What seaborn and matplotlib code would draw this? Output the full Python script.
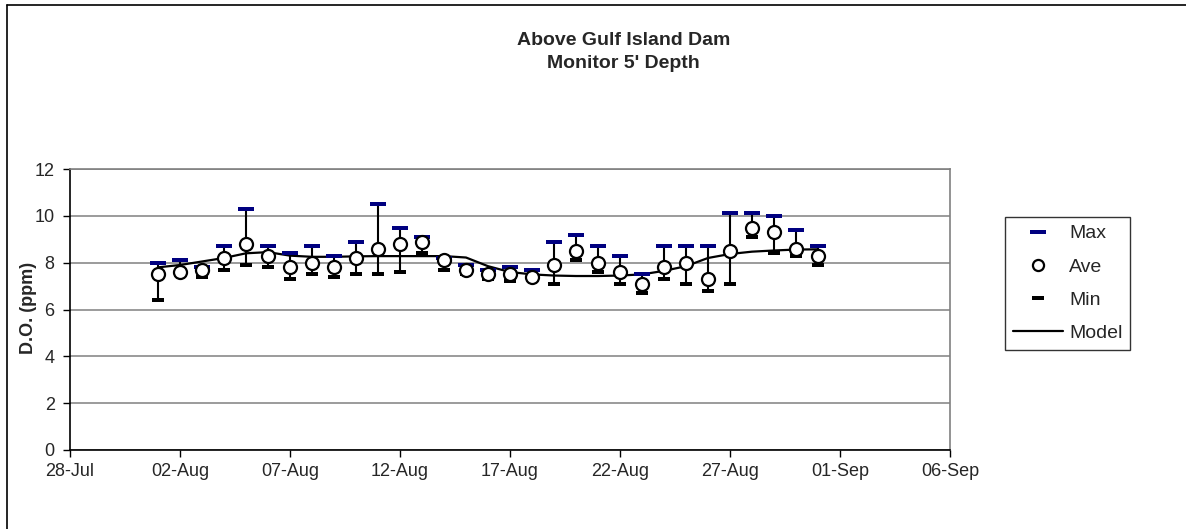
import matplotlib
matplotlib.use("Agg")
import matplotlib.pyplot as plt
import matplotlib.dates as mdates
from matplotlib.lines import Line2D
import seaborn as sns
import pandas as pd
import numpy as np

# ---- data ----
dates = pd.date_range("2003-08-01", "2003-08-31", freq="D")
max_vals = [8.0, 8.1, 7.8, 8.7, 10.3, 8.7, 8.4, 8.7, 8.3, 8.9, 10.5, 9.5, 9.1, 8.2, 7.9, 7.7,
            7.8, 7.7, 8.9, 9.2, 8.7, 8.3, 7.5, 8.7, 8.7, 8.7, 10.1, 10.1, 10.0, 9.4, 8.7]
ave_vals = [7.5, 7.6, 7.7, 8.2, 8.8, 8.3, 7.8, 8.0, 7.8, 8.2, 8.6, 8.8, 8.9, 8.1, 7.7, 7.5,
            7.5, 7.4, 7.9, 8.5, 8.0, 7.6, 7.1, 7.8, 8.0, 7.3, 8.5, 9.5, 9.3, 8.6, 8.3]
min_vals = [6.4, 7.5, 7.4, 7.7, 7.9, 7.8, 7.3, 7.5, 7.4, 7.5, 7.5, 7.6, 8.4, 7.7, 7.5, 7.3,
            7.2, 7.3, 7.1, 8.1, 7.6, 7.1, 6.7, 7.3, 7.1, 6.8, 7.1, 9.1, 8.4, 8.3, 7.9]
model_vals = [7.8, 7.9, 8.05, 8.2, 8.4, 8.45, 8.3, 8.25, 8.25, 8.27, 8.28, 8.28, 8.28, 8.28, 8.22, 7.85,
              7.6, 7.5, 7.45, 7.43, 7.43, 7.45, 7.5, 7.65, 7.85, 8.2, 8.37, 8.47, 8.52, 8.56, 8.57]
x_start, x_end = pd.Timestamp("2003-07-28"), pd.Timestamp("2003-09-06")
title_lines = ["Above Gulf Island Dam", "Monitor 5' Depth"]
y_label = "D.O. (ppm)"

df = pd.DataFrame({"date": dates, "max": max_vals, "ave": ave_vals, "min": min_vals, "model": model_vals})

sns.set_theme(style="white")
plt.rcParams["font.family"] = ["Liberation Sans", "DejaVu Sans"]

fig = plt.figure(figsize=(11.86, 5.29), dpi=100)
ax = fig.add_axes([70 / 1186, 1 - 450 / 529, 880 / 1186, 281 / 529])

navy = "#000080"
max_marker = [(-1, -0.27), (1, -0.27), (1, 0.27), (-1, 0.27)]
min_marker = [(-1, -0.35), (1, -0.35), (1, 0.35), (-1, 0.35)]

# whiskers
ax.vlines(df["date"], df["min"], df["max"], color="black", lw=1.5, zorder=2)
# model line
sns.lineplot(data=df, x="date", y="model", color="black", lw=1.6, ax=ax, zorder=3)
# max / min dashes
sns.scatterplot(data=df, x="date", y="max", marker=max_marker, s=140, color=navy,
                linewidth=0, ax=ax, zorder=4)
sns.scatterplot(data=df, x="date", y="min", marker=min_marker, s=78, color="black",
                linewidth=0, ax=ax, zorder=4)
# averages
sns.scatterplot(data=df, x="date", y="ave", marker="o", s=88, facecolor="white",
                edgecolor="black", linewidth=1.6, ax=ax, zorder=5)

ax.set_xlim(x_start, x_end)
ax.set_ylim(0, 12)
ax.set_yticks(np.arange(0, 13, 2))
ax.set_xticks(pd.date_range(x_start, x_end, freq="5D"))
ax.xaxis.set_major_formatter(mdates.DateFormatter("%d-%b"))
ax.grid(axis="y", color="#808080", lw=1.1)
ax.grid(axis="x", visible=False)
ax.tick_params(axis="both", which="major", direction="out", length=5, width=1,
               color="black", labelsize=13, left=True, bottom=True)
ax.tick_params(axis="y", pad=6)
ax.tick_params(axis="x", pad=4)
for s in ["left", "bottom"]:
    ax.spines[s].set_color("black")
    ax.spines[s].set_linewidth(1.2)
for s in ["top", "right"]:
    ax.spines[s].set_color("#808080")
    ax.spines[s].set_linewidth(1.2)

ax.set_xlabel("")
ax.set_ylabel(y_label, fontsize=13, fontweight="bold")
ax.yaxis.set_label_coords(-33 / 880, 0.505)

fig.text(0.526, 1 - 40 / 529, title_lines[0], ha="center", va="center", fontsize=14, fontweight="bold")
fig.text(0.526, 1 - 63 / 529, title_lines[1], ha="center", va="center", fontsize=14, fontweight="bold")

handles = [
    Line2D([], [], ls="none", marker=max_marker, markersize=11, color=navy, markeredgewidth=0),
    Line2D([], [], ls="none", marker="o", markersize=8, markerfacecolor="white",
           markeredgecolor="black", markeredgewidth=1.6),
    Line2D([], [], ls="none", marker=min_marker, markersize=8, color="black", markeredgewidth=0),
    Line2D([], [], color="black", lw=1.6),
]
leg = fig.legend(handles, ["Max", "Ave", "Min", "Model"], loc="upper left",
                 bbox_to_anchor=(1005 / 1186, 1 - 217 / 529), fontsize=14, frameon=True,
                 fancybox=False, edgecolor="black", handlelength=2.6, handletextpad=0.3,
                 borderpad=0.4, labelspacing=0.8, borderaxespad=0)
leg.get_frame().set_linewidth(1.0)

# outer chart frame
fig.add_artist(Line2D([7 / 1186, 7 / 1186], [0, 1 - 5 / 529], color="black", lw=1.2, transform=fig.transFigure))
fig.add_artist(Line2D([7 / 1186, 1], [1 - 5 / 529, 1 - 5 / 529], color="black", lw=1.2, transform=fig.transFigure))

fig.savefig("out.png", dpi=100)
